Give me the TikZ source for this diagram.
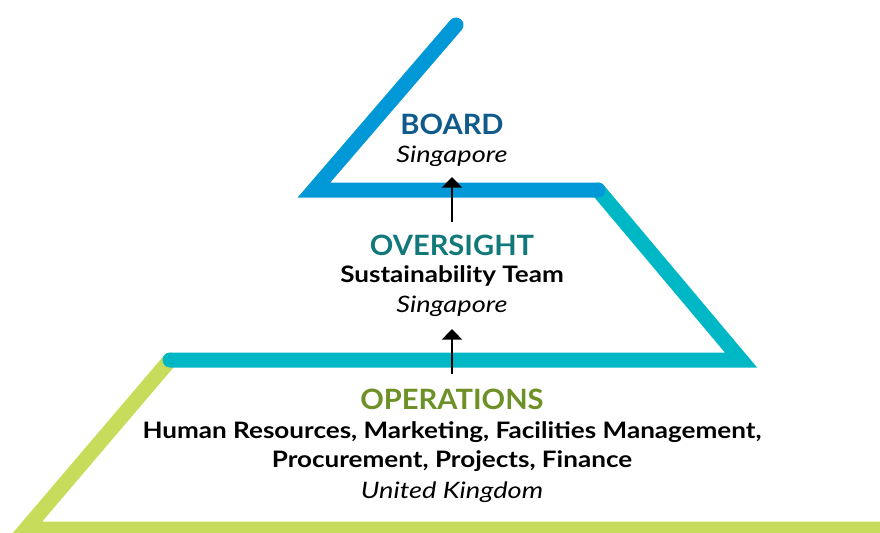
\documentclass[tikz,border=0pt]{standalone}
\usepackage{fontspec}
\setmainfont{Lato}
\newfontfamily\headfam[FakeStretch=1.04]{Lato}
\newfontfamily\bodyfam[FakeStretch=1.15]{Lato}
\newfontfamily\placefam[FakeStretch=1.2]{Lato}
\usetikzlibrary{arrows.meta}

\definecolor{boardline}{HTML}{0098D6}
\definecolor{oversightline}{HTML}{00B7C6}
\definecolor{operationsline}{HTML}{C8DC5C}
\definecolor{boardtext}{HTML}{0F5B8C}
\definecolor{oversighttext}{HTML}{12797A}
\definecolor{operationstext}{HTML}{6E9127}

\begin{document}
\begin{tikzpicture}[x=0.75pt,y=-0.75pt,
  tier/.style={line width=11.25pt,line cap=round,line join=miter},
  heading/.style={font=\headfam\fontsize{21}{24}\selectfont\bfseries,inner sep=0pt,anchor=center},
  bodytext/.style={font=\bodyfam\fontsize{17}{20}\selectfont\bfseries,inner sep=0pt,anchor=center},
  place/.style={font=\placefam\fontsize{17}{20}\selectfont\itshape,inner sep=0pt,anchor=center},
  uparrow/.style={line width=1.9pt,-{Triangle[length=8pt,width=15pt]}}]
\useasboundingbox (0,0) rectangle (880,532);
\clip (0,0) rectangle (880,532);

% tier outlines, lowest first so each upper band overlaps the one beneath
\draw[tier,operationsline] (170,360) -- (26,529) -- (900,529);
\draw[tier,oversightline] (598,190) -- (741,360) -- (170,360);
\draw[tier,boardline] (456,25) -- (314,190) -- (598,190);

\coordinate (boardbase) at (452,177);
\coordinate (oversightbase) at (452,329);

% board
\node[heading,text=boardtext] (board) at (452,124) {BOARD};
\node[place] (boardloc) at (452,156) {Singapore};

% oversight
\node[heading,text=oversighttext] (oversight) at (452,245) {OVERSIGHT};
\node[bodytext] (team) at (452,276) {Sustainability Team};
\node[place] (teamloc) at (452,306) {Singapore};

% operations
\node[heading,text=operationstext] (operations) at (452,399) {OPERATIONS};
\node[bodytext] (depts1) at (452,432) {Human Resources, Marketing, Facilities Management,};
\node[bodytext] (depts2) at (452,461) {Procurement, Projects, Finance};
\node[place] (opsloc) at (452,492) {United Kingdom};

% reporting lines
\draw[uparrow] (452,222) -- (boardbase);
\draw[uparrow] (452,374) -- (oversightbase);
\end{tikzpicture}
\end{document}
